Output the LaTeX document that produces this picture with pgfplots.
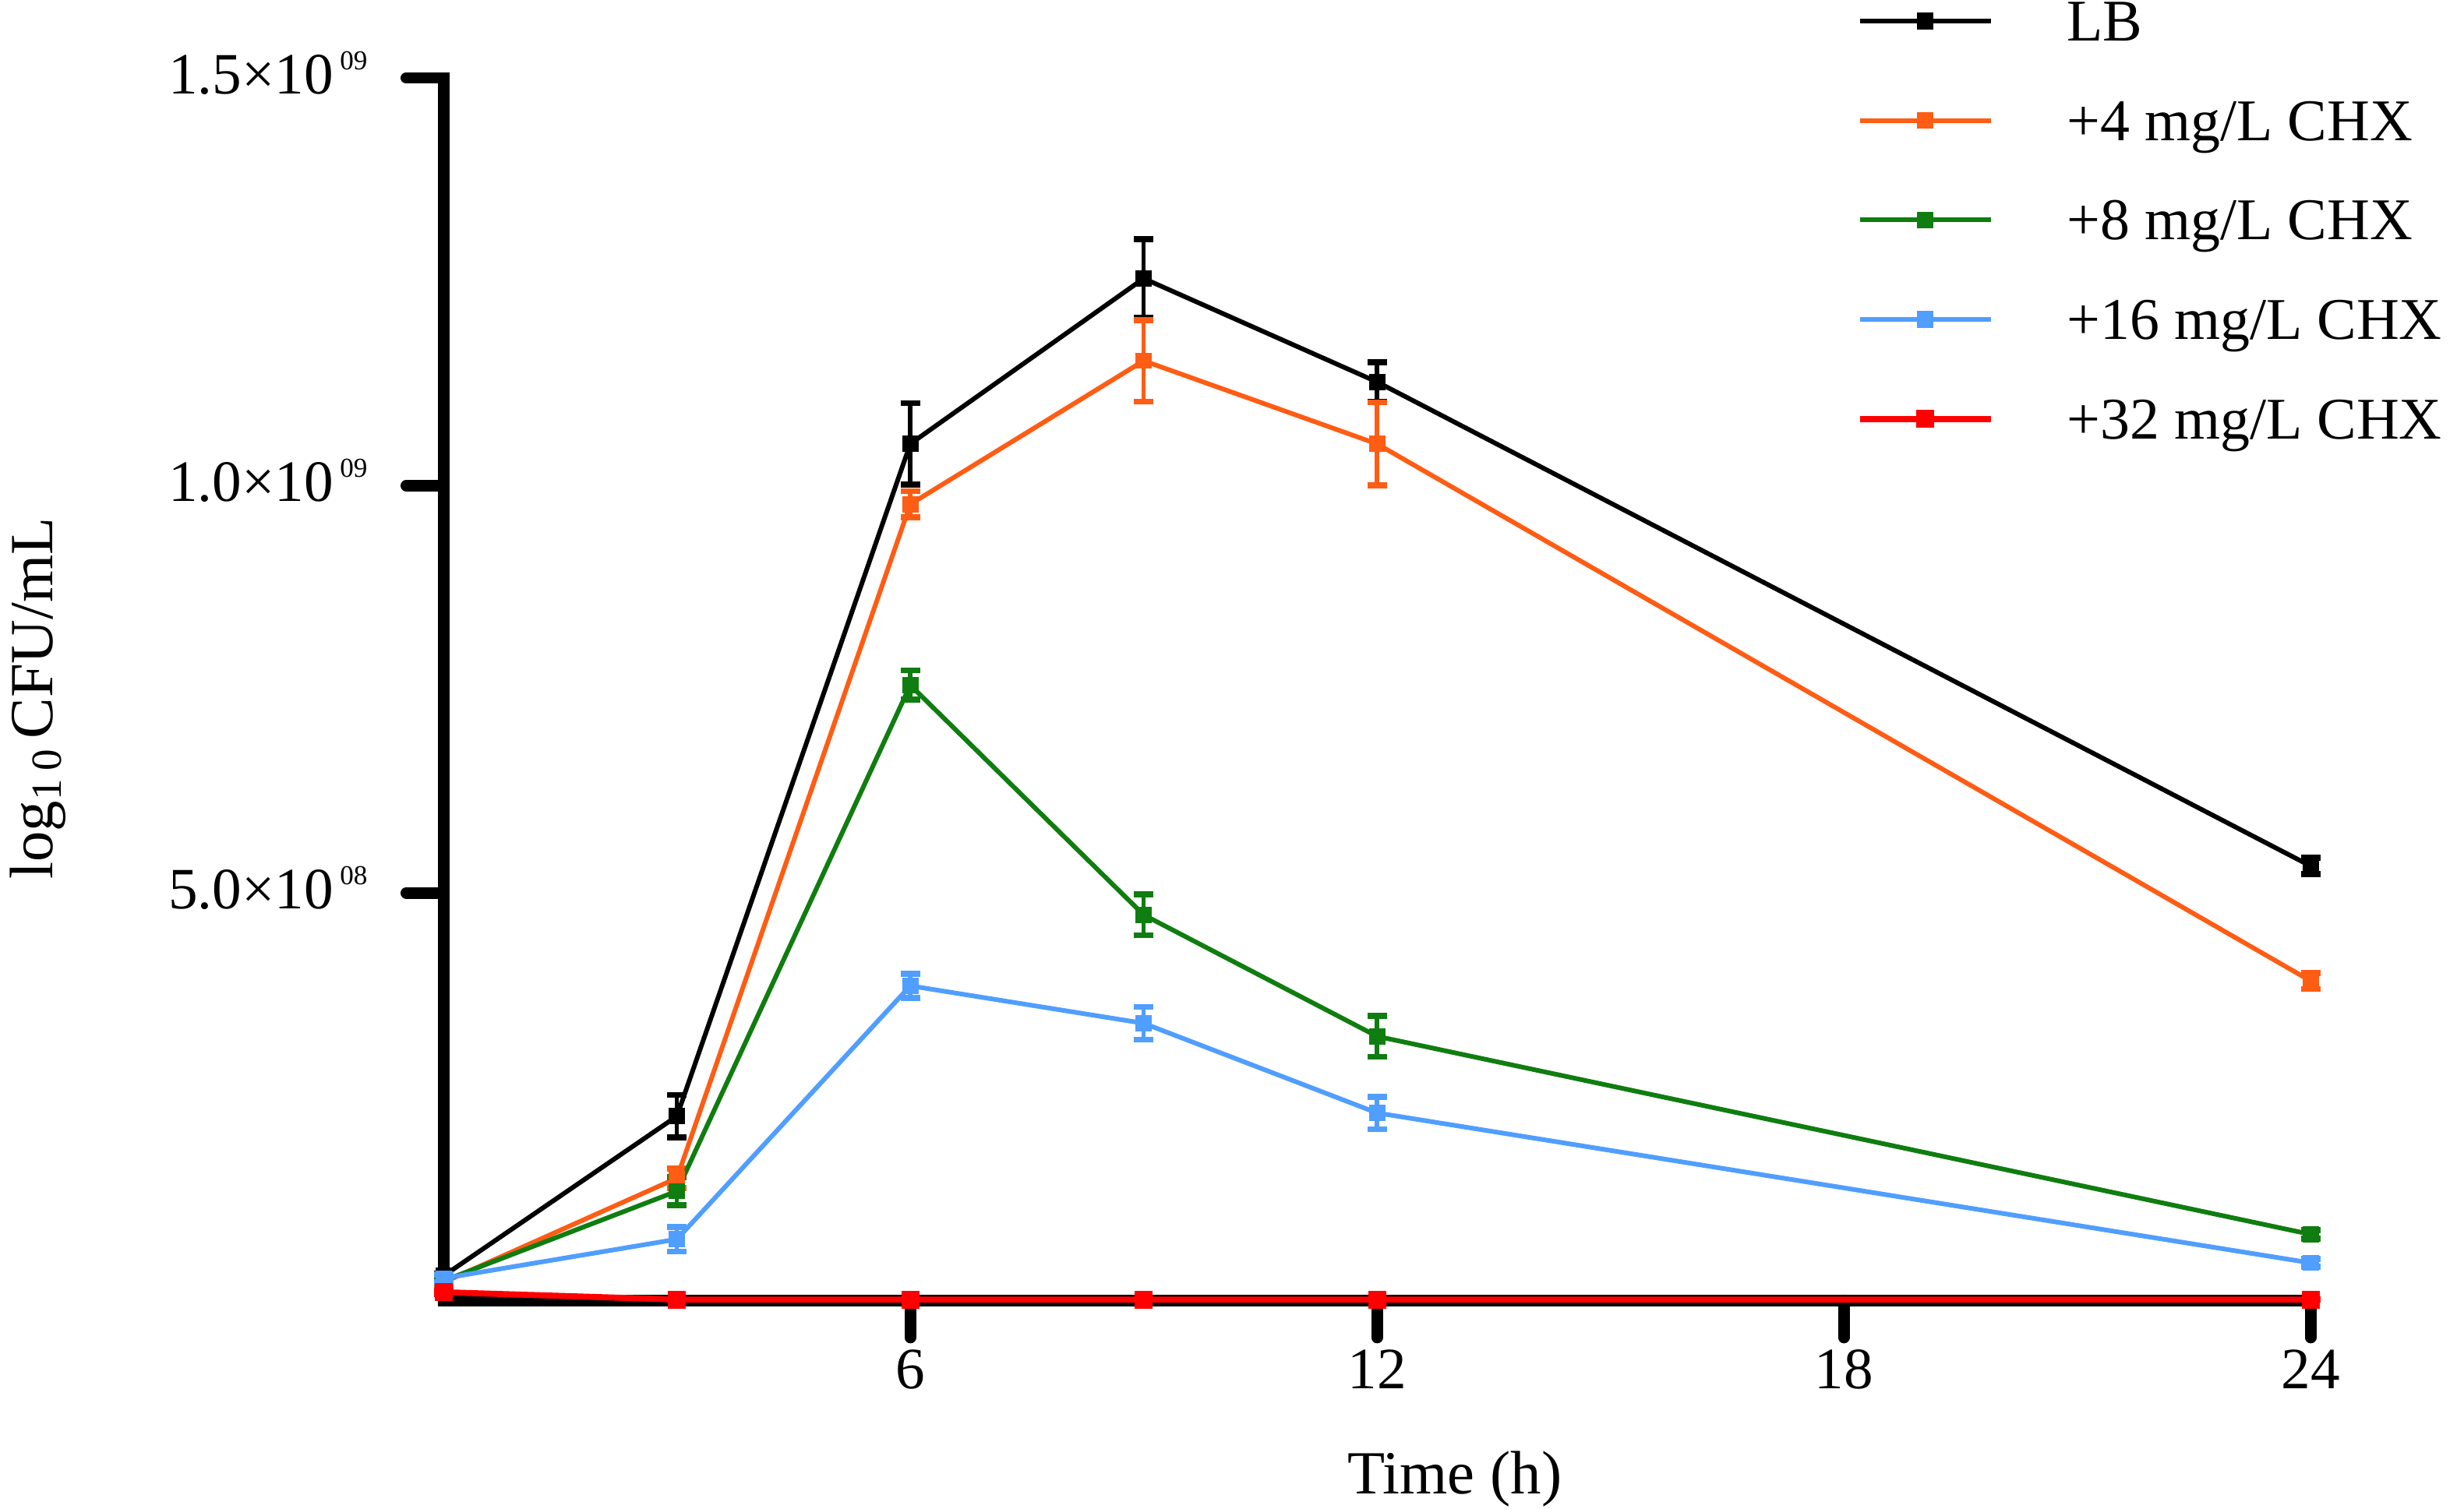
\documentclass[border=0pt]{standalone}
\usepackage{fontspec}
\setmainfont{Liberation Serif}
\usepackage{pgfplots}
\pgfplotsset{compat=1.18}
\definecolor{cOr}{RGB}{255,92,20}
\definecolor{cGr}{RGB}{15,125,15}
\definecolor{cBl}{RGB}{80,158,255}
\definecolor{cRd}{RGB}{255,0,0}
\newcommand{\sexp}[1]{\hspace{1.2pt}\raisebox{4.4pt}{\fontsize{5}{6}\selectfont #1}}
\pgfplotsset{
  myerr/.style={error bars/.cd, y dir=both, y explicit, error mark=-,
    error bar style={line width=0.8pt, solid},
    error mark options={rotate=90, line width=1.1pt, mark size=1.8pt}},
}
\begin{document}
\begin{tikzpicture}
\begin{axis}[
  name=ax,
  scale only axis, width=341pt, height=223.3pt,
  xmin=0, xmax=24, ymin=0, ymax=1.5,
  axis lines*=left,
  axis line style={line width=2.1pt, line cap=rect},
  tick align=outside,
  major tick length=6.8pt,
  tick style={line width=2.1pt, black, line cap=round},
  xtick={6,12,18,24}, xticklabels={6,12,18,24},
  ytick={0.5,1,1.5},
  yticklabels={5.0×10\sexp{08},1.0×10\sexp{09},1.5×10\sexp{09}},
  ticklabel style={font=\fontsize{10.7}{12}\selectfont},
  yticklabel style={anchor=base east, inner sep=0pt, xshift=-6.9pt, yshift=-2.85pt},
  xticklabel style={anchor=base, inner sep=0pt, yshift=-9.3pt},
  xlabel={Time (h)},
  ylabel={log\textsubscript{1\hspace{1.5pt}0}\hspace{1.5pt}CFU/mL},
  xlabel style={font=\fontsize{11.2}{13}\selectfont, at={(axis description cs:0.5416,-0.158)}, anchor=base},
  ylabel style={font=\fontsize{11.2}{13}\selectfont, at={(axis description cs:-0.2173,0.4926)}, anchor=center},
  clip=false,
  legend cell align=left,
  legend style={at={(axis description cs:0.7569,1.0627)}, anchor=north west,
    draw=none, fill=none, inner sep=0pt, outer sep=0pt,
    row sep=10.97pt, column sep=13.4pt,
    font=\fontsize{10.8}{12}\selectfont,
    nodes={inner sep=0pt, text height=7.2pt, text depth=0pt}},
  legend image code/.code={\draw[#1, mark repeat=2, mark phase=2, mark size=1.1pt] plot coordinates {(0pt,0pt) (11.95pt,0pt) (23.9pt,0pt)};},
]
\addplot[black, line width=0.85pt, mark=square*, mark size=1.05pt, myerr]
  table[x index=0, y index=1, y error index=2] {
0  0.030 0.003
3  0.226 0.026
6  1.051 0.050
9  1.254 0.048
12 1.127 0.024
24 0.533 0.010
};
\addlegendentry{LB}
\addplot[cOr, line width=0.85pt, mark=square*, mark size=1.05pt, myerr]
  table[x index=0, y index=1, y error index=2] {
0  0.022 0.003
3  0.150 0.012
6  0.977 0.016
9  1.153 0.050
12 1.051 0.051
24 0.392 0.010
};
\addlegendentry{+4 mg/L CHX}
\addplot[cGr, line width=0.85pt, mark=square*, mark size=1.05pt, myerr]
  table[x index=0, y index=1, y error index=2] {
0  0.024 0.003
3  0.134 0.017
6  0.755 0.018
9  0.473 0.025
12 0.324 0.025
24 0.081 0.005
};
\addlegendentry{+8 mg/L CHX}
\addplot[cBl, line width=0.85pt, mark=square*, mark size=1.05pt, myerr]
  table[x index=0, y index=1, y error index=2] {
0  0.027 0.005
3  0.075 0.015
6  0.386 0.015
9  0.340 0.020
12 0.230 0.020
24 0.046 0.005
};
\addlegendentry{+16 mg/L CHX}
\addplot[cRd, line width=1.1pt, mark=square*, mark size=1.1pt, myerr]
  table[x index=0, y index=1, y error index=2] {
0  0.010 0.002
3  0.001 0.000
6  0.001 0.000
9  0.001 0.000
12 0.001 0.000
24 0.001 0.000
};
\addlegendentry{+32 mg/L CHX}
\end{axis}
\pgfresetboundingbox
\path (ax.south west) ++(-81pt,-38.1pt) rectangle ++(450pt,275.65pt);
\end{tikzpicture}
\end{document}
